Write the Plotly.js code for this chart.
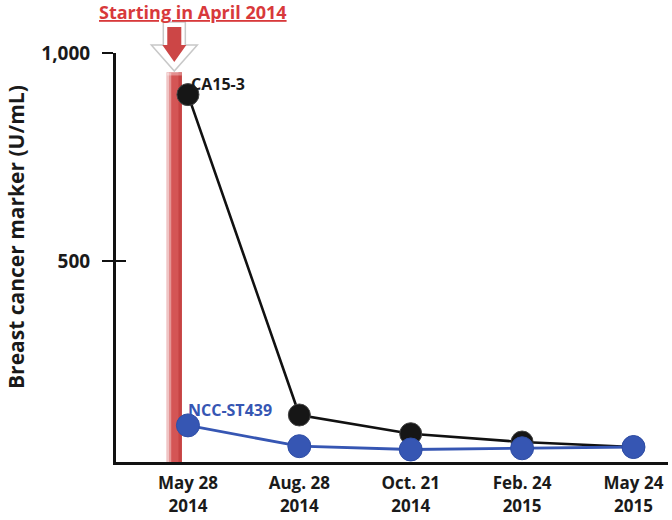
<!DOCTYPE html>
<html><head><meta charset="utf-8">
<script src="https://cdn.plot.ly/plotly-3.0.1.min.js"></script>
<style>html,body{margin:0;padding:0;background:#fff}</style>
</head><body><div id="chart" style="width:672px;height:520px"></div>
<script>
// ---- data ----
const dates = ["May 28<br>2014", "Aug. 28<br>2014", "Oct. 21<br>2014", "Feb. 24<br>2015", "May 24<br>2015"];
const ca153 = [900, 130, 85, 65, 53];
const nccST439 = [105, 55, 47, 50, 53];
const yTickVals = [500, 1000];
const yTickText = ["500", "1,000"];
const seriesNames = ["CA15-3", "NCC-ST439"];
const startNote = "Starting in April 2014";
const yTitle = "Breast cancer marker (U/mL)";

// ---- layout geometry ----
const W = 672, H = 520;
const M = {l: 116, r: 4, t: 53, b: 58};
const xRange = [-0.646, 4.31];
const yRange = [17, 1000];
const plotW = W - M.l - M.r, plotH = H - M.t - M.b;
const pxX = px => (px - M.l) / plotW;          // pixel -> paper x
const pxY = py => (H - M.b - py) / plotH;      // pixel -> paper y
const idxToPx = i => M.l + (i - xRange[0]) / (xRange[1] - xRange[0]) * plotW;

const FONT = "'Open Sans', 'DejaVu Sans', sans-serif";
const BLUE = "#3656b3";

// treatment bar in category-index units (just left of first date)
const barX0 = -0.19, barX1 = -0.055, barTop = 954;
const cx = idxToPx((barX0 + barX1) / 2);  // arrow centre pixel

function path(pts) {
  return "M" + pts.map(p => pxX(p[0]).toFixed(4) + "," + pxY(p[1]).toFixed(4)).join(" L") + " Z";
}

const traces = [
  {x: dates, y: ca153, name: seriesNames[0], type: "scatter", mode: "lines+markers",
   line: {color: "#111", width: 2.6},
   marker: {color: "#161616", size: 22, line: {color: "#444", width: 1}}},
  {x: dates, y: nccST439, name: seriesNames[1], type: "scatter", mode: "lines+markers",
   line: {color: BLUE, width: 2.8},
   marker: {color: BLUE, size: 23, line: {color: "#2f4ea6", width: 1}}},
  {x: dates, y: nccST439, yaxis: "y2", type: "scatter", mode: "markers",
   marker: {opacity: 0}, hoverinfo: "skip", showlegend: false}
];

const shapes = [
  // treatment bar (gradient approximation)
  {type: "rect", xref: "x", yref: "y", x0: barX0, x1: barX1, y0: yRange[0], y1: barTop,
   fillcolor: "#d45555", line: {width: 0}, layer: "below"},
  {type: "rect", xref: "x", yref: "y", x0: barX0, x1: barX0 + 0.02, y0: yRange[0], y1: barTop,
   fillcolor: "#f0c4c4", line: {width: 0}, layer: "below"},
  {type: "rect", xref: "x", yref: "y", x0: barX0 + 0.02, x1: barX0 + 0.04, y0: yRange[0], y1: barTop,
   fillcolor: "#e59595", line: {width: 0}, layer: "below"},
  {type: "rect", xref: "x", yref: "y", x0: barX1 - 0.03, x1: barX1, y0: yRange[0], y1: barTop,
   fillcolor: "#c64343", line: {width: 0}, layer: "below"},
  {type: "rect", xref: "x", yref: "y", x0: barX0, x1: barX1, y0: barTop - 8, y1: barTop,
   fillcolor: "rgba(255,255,255,0.35)", line: {width: 0}, layer: "below"},
  // outlined arrow (white with grey edge)
  {type: "path", xref: "paper", yref: "paper",
   path: path([[cx - 11, 22], [cx + 11, 22], [cx + 11, 45], [cx + 23, 45], [cx, 71], [cx - 23, 45], [cx - 11, 45]]),
   fillcolor: "#ffffff", line: {color: "#c8c8c8", width: 1.5}},
  // red arrow
  {type: "path", xref: "paper", yref: "paper",
   path: path([[cx - 7, 27], [cx + 7, 27], [cx + 7, 45], [cx + 12, 45], [cx, 62], [cx - 12, 45], [cx - 7, 45]]),
   fillcolor: "#cc4646", line: {width: 0}}
];

const annotations = [
  {xref: "paper", yref: "paper", x: pxX(193), y: pxY(12), xanchor: "center", yanchor: "middle",
   text: "<u>" + startNote + "</u>", showarrow: false,
   font: {family: FONT, size: 18, color: "#d8393b", weight: 700}},
  {xref: "paper", yref: "paper", x: pxX(16), y: pxY(237), xanchor: "center", yanchor: "middle",
   text: yTitle, textangle: -90, showarrow: false,
   font: {family: FONT, size: 21, color: "#1a1a1a", weight: 700}},
  {xref: "x", yref: "y", x: 0, y: ca153[0], xanchor: "left", yanchor: "middle",
   xshift: 1, yshift: 11, text: seriesNames[0], showarrow: false,
   font: {family: FONT, size: 16, color: "#1a1a1a", weight: 700}},
  {xref: "x", yref: "y", x: 0, y: nccST439[0], xanchor: "left", yanchor: "middle",
   xshift: -2, yshift: 15, text: seriesNames[1], showarrow: false,
   font: {family: FONT, size: 16, color: BLUE, weight: 700}}
];

const layout = {
  width: W, height: H, margin: M,
  paper_bgcolor: "#fff", plot_bgcolor: "#fff",
  showlegend: false,
  xaxis: {type: "category", range: xRange, showline: true, linecolor: "#111", linewidth: 3,
          ticks: "", showgrid: false, zeroline: false, ticklabelstandoff: 4,
          tickfont: {family: FONT, size: 17, color: "#1a1a1a", weight: 700}},
  yaxis: {range: yRange, showline: true, linecolor: "#111", linewidth: 3,
          ticks: "outside", ticklen: 11, tickwidth: 2.5, tickcolor: "#111",
          tickvals: yTickVals, ticktext: yTickText, ticklabelstandoff: 8,
          showgrid: false, zeroline: false,
          tickfont: {family: FONT, size: 19, color: "#1a1a1a", weight: 700}},
  yaxis2: {range: yRange, overlaying: "y", side: "left", showline: false,
           ticks: "inside", ticklen: 10, tickwidth: 2.5, tickcolor: "#111",
           tickvals: yTickVals, showticklabels: false, showgrid: false, zeroline: false},
  shapes: shapes,
  annotations: annotations
};

Plotly.newPlot("chart", traces, layout, {staticPlot: true, displayModeBar: false});
</script></body></html>
